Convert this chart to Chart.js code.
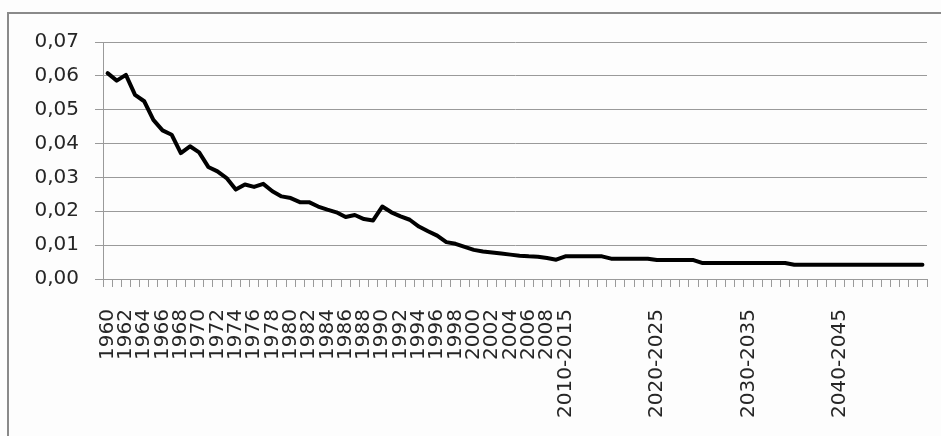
<!DOCTYPE html>
<html>
<head>
<meta charset="utf-8">
<script src="https://cdn.jsdelivr.net/npm/chart.js@4.4.1/dist/chart.umd.min.js"></script>
<style>
  html, body { margin: 0; padding: 0; background: #fdfdfd; }
  #wrap { position: relative; width: 941px; height: 436px; overflow: hidden; }
  #frame { position: absolute; left: 7px; top: 12px; width: 960px; height: 460px;
           border-left: 2px solid #8a8a8a; border-top: 2px solid #8a8a8a; }
  canvas { position: absolute; left: 0; top: 0; }
</style>
</head>
<body>
<div id="wrap">
  <div id="frame"></div>
  <canvas id="c" width="941" height="436"></canvas>
</div>
<script>
// Category labels along the x axis (blank entries are unlabelled categories)
const tickLabels = [
  '1960','','1962','','1964','','1966','','1968','',
  '1970','','1972','','1974','','1976','','1978','',
  '1980','','1982','','1984','','1986','','1988','',
  '1990','','1992','','1994','','1996','','1998','',
  '2000','','2002','','2004','','2006','','2008','',
  '2010-2015','','','','','','','','','',
  '2020-2025','','','','','','','','','',
  '2030-2035','','','','','','','','','',
  '2040-2045','','','','','','','','',''
];

// Series values, one per category
const rateValues = [
  0.0608, 0.0586, 0.0603, 0.0544, 0.0525, 0.0470, 0.0439, 0.0426, 0.0372, 0.0392,
  0.0374, 0.0331, 0.0318, 0.0298, 0.0264, 0.0279, 0.0272, 0.0281, 0.0259, 0.0244,
  0.0239, 0.0227, 0.0227, 0.0214, 0.0205, 0.0197, 0.0183, 0.0189, 0.0177, 0.0173,
  0.0214, 0.0197, 0.0185, 0.0175, 0.0155, 0.0141, 0.0128, 0.0109, 0.0104, 0.0095,
  0.0086, 0.0081, 0.0078, 0.0075, 0.0072, 0.0069, 0.0067, 0.0066, 0.0062, 0.0057,
  0.0067, 0.0067, 0.0067, 0.0067, 0.0067, 0.0060, 0.0060, 0.0060, 0.0060, 0.0060,
  0.0056, 0.0056, 0.0056, 0.0056, 0.0056, 0.0047, 0.0047, 0.0047, 0.0047, 0.0047,
  0.0047, 0.0047, 0.0047, 0.0047, 0.0047, 0.0042, 0.0042, 0.0042, 0.0042, 0.0042,
  0.0042, 0.0042, 0.0042, 0.0042, 0.0042, 0.0042, 0.0042, 0.0042, 0.0042, 0.0042
];

// Value axis range
const yMin = 0;
const yMax = 0.07;
const yStep = 0.01;

const axisGray = '#9a9a9a';
const textColor = '#262626';
const font = { family: 'DejaVu Sans', size: 20 };

new Chart(document.getElementById('c'), {
  type: 'line',
  data: {
    labels: tickLabels,
    datasets: [{
      data: rateValues,
      borderColor: '#000',
      borderWidth: 4,
      pointRadius: 0,
      tension: 0,
      borderJoinStyle: 'round',
      borderCapStyle: 'round',
      fill: false
    }]
  },
  options: {
    responsive: false,
    animation: false,
    events: [],
    layout: { padding: { top: 42, right: 14, bottom: 0, left: 0 } },
    plugins: { legend: { display: false }, tooltip: { enabled: false } },
    scales: {
      x: {
        offset: true,
        grid: { offset: true, drawOnChartArea: false, drawTicks: true, tickLength: 8, color: axisGray },
        border: { display: true, color: axisGray, width: 1 },
        ticks: {
          autoSkip: false,
          minRotation: 90,
          maxRotation: 90,
          padding: 22,
          color: textColor,
          font: font
        },
        afterFit: (scale) => {
          scale.height = 157;
          scale.paddingLeft = 0;
          scale.paddingRight = 0;
        }
      },
      y: {
        min: yMin,
        max: yMax,
        grid: { drawTicks: true, tickLength: 8, color: axisGray },
        border: { display: true, color: axisGray, width: 1 },
        ticks: {
          stepSize: yStep,
          padding: 16,
          color: textColor,
          font: font,
          callback: (v) => Number(v).toFixed(2).replace('.', ',')
        },
        afterFit: (scale) => {
          scale.width = 103;
          scale.paddingTop = 0;
          scale.paddingBottom = 0;
        }
      }
    }
  }
});
</script>
</body>
</html>
